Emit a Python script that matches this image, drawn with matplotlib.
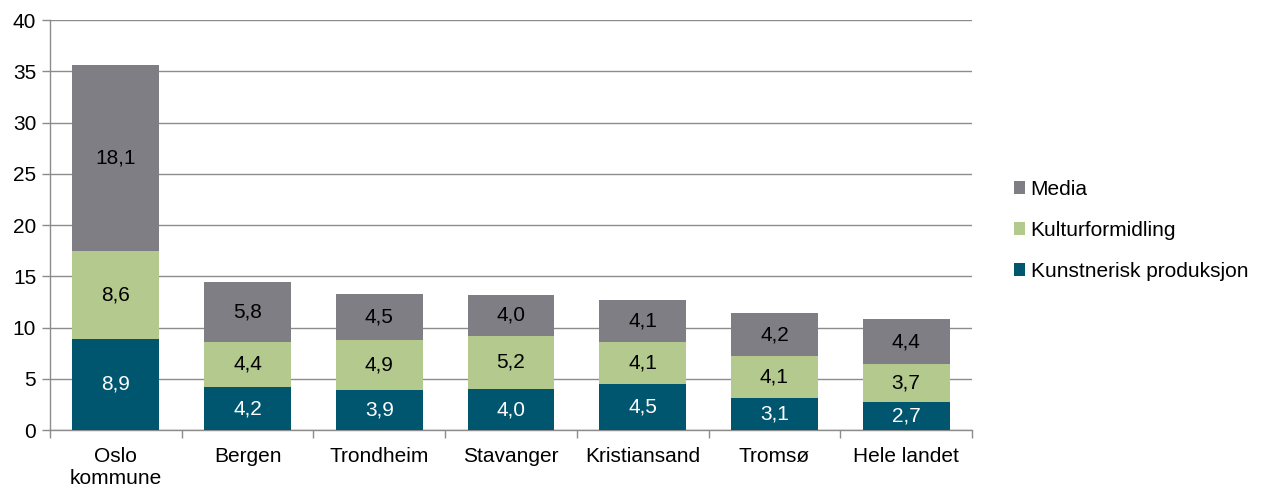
import numpy as np
import matplotlib.pyplot as plt

plt.rcParams['font.family'] = ['Liberation Sans', 'DejaVu Sans']

categories = ["Oslo\nkommune", "Bergen", "Trondheim", "Stavanger", "Kristiansand", "Tromsø", "Hele landet"]
kunstnerisk = [8.9, 4.2, 3.9, 4.0, 4.5, 3.1, 2.7]
kulturformidling = [8.6, 4.4, 4.9, 5.2, 4.1, 4.1, 3.7]
media = [18.1, 5.8, 4.5, 4.0, 4.1, 4.2, 4.4]

series = [
    ("Kunstnerisk produksjon", kunstnerisk, "#00566E", "white"),
    ("Kulturformidling", kulturformidling, "#B3C98D", "black"),
    ("Media", media, "#7F7E84", "black"),
]

fig = plt.figure(figsize=(12.63, 4.9), dpi=100)
ax = fig.add_axes([0.0396, 0.1224, 0.73, 0.8366])

x = np.arange(len(categories))
bottom = np.zeros(len(categories))
handles = []
for name, vals, color, tcolor in series:
    vals = np.array(vals)
    bars = ax.bar(x, vals, width=0.66, bottom=bottom, color=color, label=name, zorder=3)
    handles.append(bars)
    for xi, b, v in zip(x, bottom, vals):
        ax.text(xi, b + v / 2, f"{v:.1f}".replace(".", ","), ha="center", va="center",
                color=tcolor, fontsize=15, zorder=4)
    bottom = bottom + vals

ax.set_ylim(0, 40)
ax.set_yticks(np.arange(0, 41, 5))
ax.set_xlim(-0.5, len(categories) - 0.5)
ax.yaxis.grid(True, color="#8C8C8C", linewidth=1, zorder=0)
ax.set_axisbelow(True)

ax.set_xticks(np.arange(-0.5, len(categories), 1))
ax.set_xticklabels([])
ax.set_xticks(x, minor=True)
ax.set_xticklabels(categories, minor=True, fontsize=15, linespacing=1.25)
ax.tick_params(axis="x", which="minor", length=0, pad=12)
ax.tick_params(axis="x", which="major", length=6, color="#8C8C8C", width=1)
ax.tick_params(axis="y", length=6, color="#8C8C8C", width=1, labelsize=15, pad=4)

for s in ["top", "right"]:
    ax.spines[s].set_visible(False)
for s in ["left", "bottom"]:
    ax.spines[s].set_color("#8C8C8C")
    ax.spines[s].set_linewidth(1)

leg = fig.legend(handles[::-1], [s[0] for s in series][::-1], loc="center left",
                 bbox_to_anchor=(0.788, 0.53), frameon=False, fontsize=15,
                 handlelength=0.55, handleheight=0.55, handletextpad=0.25, labelspacing=1.05)

fig.savefig("out.png", dpi=100)
